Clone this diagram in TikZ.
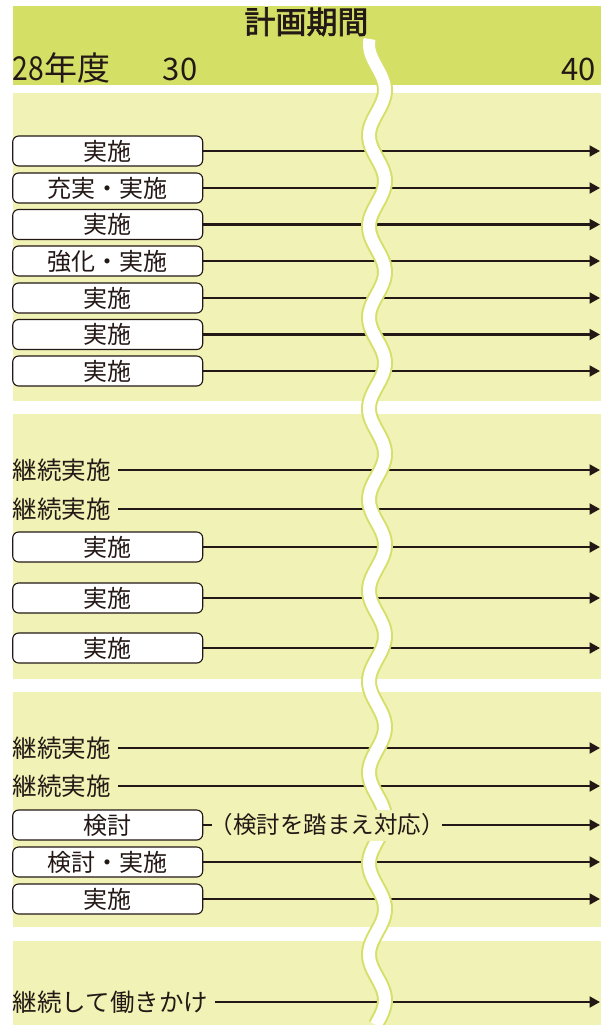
\documentclass[tikz,border=0pt]{standalone}
\usepackage{fontspec}
\setmainfont{Noto Sans CJK JP}
\usetikzlibrary{arrows.meta}
\definecolor{hdr}{HTML}{D4DF66}
\definecolor{band}{HTML}{F1F2B5}
\definecolor{wavec}{HTML}{D5E06B}
\definecolor{ink}{HTML}{231815}
\begin{document}
\begin{tikzpicture}[x=1pt,y=-1pt,
  box/.style={draw=ink,line width=1.1pt,fill=white,rounded corners=6pt,minimum width=190pt,minimum height=30pt,inner sep=0pt,font=\fontsize{24}{24}\selectfont,text=ink},
  free/.style={anchor=west,inner xsep=7pt,inner ysep=0pt,font=\fontsize{24.5}{24.5}\selectfont,text=ink},
  flow/.style={draw=ink,line width=2.1pt,-{Triangle[length=10.5pt,width=11pt]}},
  seg/.style={draw=ink,line width=2.1pt},
  hdrtext/.style={text=ink,inner sep=0pt,font=\fontsize{31}{31}\selectfont}]
\useasboundingbox (0,0) rectangle (609,1025);
% bands
\fill[hdr] (12.7,6) rectangle (601,85);
\fill[band] (12.7,92.7) rectangle (601,400.7);
\fill[band] (12.7,414) rectangle (601,679);
\fill[band] (12.7,692) rectangle (601,927);
\fill[band] (12.7,941) rectangle (601,1025);
% header texts
\node[hdrtext,anchor=base,font=\fontsize{31}{31}\selectfont\addfontfeature{FakeBold=2.2}] (title) at (306.5,33.5) {計画期間};
\node[hdrtext,anchor=base west,font=\fontsize{33}{33}\selectfont] (y28) at (12.7,80.5) {\scalebox{0.86}[1]{28}年度};
\node[hdrtext,anchor=base] (y30) at (180,80.5) {30};
\node[hdrtext,anchor=base east] (y40) at (596,80.5) {40};
% boxed rows
\foreach \n/\y/\t in {a1/151/実施, a2/188/充実・実施, a3/224.5/実施, a4/261/強化・実施, a5/298/実施, a6/334.5/実施, a7/371/実施,
  b3/547/実施, b4/598/実施, b5/648/実施,
  c4/862/検討・実施, c5/899/実施} {
  \node[box] (\n) at (107.7,\y) {\t};
  \coordinate (\n e) at (600,\y);
  \draw[flow] (\n) -- (\n e);
}
% free text rows
\foreach \n/\y/\t in {b1/470/継続実施, b2/509/継続実施, c1/748/継続実施, c2/786/継続実施, d1/1002/継続して働きかけ} {
  \node[free] (\n) at (5.7,\y) {\t};
  \coordinate (\n e) at (600,\y);
  \draw[flow] (\n) -- (\n e);
}
% special row
\node[box] (c3) at (107.7,825) {検討};
\coordinate (c3e) at (600,825);
% wave
\draw[wavec,line width=16pt] plot[domain=39:1025,samples=300,smooth,variable=\t] ({377+8*cos(3.95604*(\t-90))},\t);
\draw[white,line width=12pt] plot[domain=39:1025,samples=300,smooth,variable=\t] ({377+8*cos(3.95604*(\t-90))},\t);
% node over the wave
\node[fill=band,inner xsep=-3pt,minimum height=31pt,text=ink,font=\fontsize{23.5}{23.5}\selectfont] (c3t) at (327,825) {（検討を踏まえ対応）};
\draw[seg] (c3) -- (c3t);
\draw[flow] (c3t) -- (c3e);
\end{tikzpicture}
\end{document}
